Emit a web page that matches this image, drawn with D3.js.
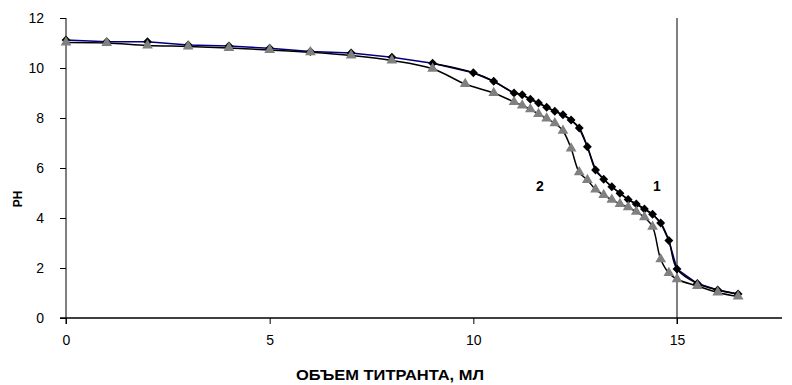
<!DOCTYPE html>
<html>
<head>
<meta charset="utf-8">
<script src="https://cdn.jsdelivr.net/npm/d3@7"></script>
<style>
  body { margin: 0; background: #fff; }
  text { font-family: "Liberation Sans", Arial, sans-serif; }
</style>
</head>
<body>
<div id="chart"></div>
<script>
// curve 1 (diamonds) and curve 2 (triangles): volume in mL, pH
const vol1 = [0, 1, 2, 3, 4, 5, 6, 7, 8, 9, 10, 10.5, 11, 11.2, 11.4, 11.6, 11.8, 12, 12.2, 12.4, 12.6, 12.8,
              13, 13.2, 13.4, 13.6, 13.8, 14, 14.2, 14.4, 14.6, 14.8, 15, 15.5, 16, 16.5];
const ph1  = [11.12, 11.05, 11.05, 10.92, 10.88, 10.79, 10.66, 10.6, 10.43, 10.19, 9.81, 9.47, 9.0, 8.93, 8.75, 8.6, 8.43, 8.27, 8.13, 7.92, 7.6, 6.85,
              5.92, 5.55, 5.25, 4.99, 4.74, 4.56, 4.36, 4.15, 3.8, 3.1, 1.96, 1.38, 1.12, 0.96];

const vol2 = [0, 1, 2, 3, 4, 5, 6, 7, 8, 9, 9.8, 10.5, 11, 11.2, 11.4, 11.6, 11.8, 12, 12.2, 12.4, 12.6, 12.8,
              13, 13.2, 13.4, 13.6, 13.8, 14, 14.2, 14.4, 14.6, 14.8, 15, 15.5, 16, 16.5];
const ph2  = [11.02, 11.0, 10.9, 10.86, 10.8, 10.72, 10.63, 10.5, 10.3, 9.97, 9.36, 9.0, 8.64, 8.5, 8.35, 8.16, 7.98, 7.79, 7.49, 6.78, 5.83, 5.52,
              5.14, 4.92, 4.73, 4.56, 4.43, 4.25, 4.03, 3.65, 2.35, 1.8, 1.55, 1.28, 1.02, 0.86];

const xTicks = [0, 5, 10, 15];
const yTicks = [0, 2, 4, 6, 8, 10, 12];
const markX = 15;

const width = 792, height = 385;
const x0 = 66, x15 = 677;
const x = d3.scaleLinear().domain([0, 15]).range([x0, x15]);
const y = d3.scaleLinear().domain([0, 12]).range([318, 18]);
const xEnd = 782;

const svg = d3.select("#chart").append("svg")
    .attr("width", width)
    .attr("height", height);

const s1 = vol1.map((v, i) => ({v: v, p: ph1[i]}));
const s2 = vol2.map((v, i) => ({v: v, p: ph2[i]}));

// axes
const yAxis = svg.append("g")
    .attr("transform", `translate(${x0},0)`)
    .call(d3.axisLeft(y).tickValues(yTicks).tickSize(6).tickPadding(16).tickSizeOuter(0));
yAxis.select(".domain").remove();
yAxis.selectAll("text").style("font-size", "14px").attr("fill", "#000");

svg.append("line")
    .attr("x1", x0).attr("x2", x0)
    .attr("y1", y(12)).attr("y2", y(0) + 6)
    .attr("stroke", "#000");

const xAxis = svg.append("g")
    .attr("transform", `translate(0,${y(0)})`)
    .call(d3.axisBottom(x).tickValues(xTicks).tickSize(6).tickPadding(11));
xAxis.select(".domain").remove();
xAxis.selectAll("text").style("font-size", "14px").attr("fill", "#000");

svg.append("line")
    .attr("x1", x0 - 6).attr("x2", xEnd)
    .attr("y1", y(0)).attr("y2", y(0))
    .attr("stroke", "#000")
    .attr("stroke-width", 1.3);

// vertical marker at 15 mL
svg.append("line")
    .attr("x1", x(markX)).attr("x2", x(markX))
    .attr("y1", y(12)).attr("y2", y(0) + 6)
    .attr("stroke", "#000");

// lines
const linear = d3.line().x(d => x(d.v)).y(d => y(d.p));
const smooth = d3.line().x(d => x(d.v)).y(d => y(d.p)).curve(d3.curveCatmullRom.alpha(0.5));

svg.append("path")
    .attr("d", linear(s1))
    .attr("fill", "none")
    .attr("stroke", "#000080")
    .attr("stroke-width", 1.5);

svg.append("path")
    .attr("d", smooth(s2))
    .attr("fill", "none")
    .attr("stroke", "#000")
    .attr("stroke-width", 1.5);

svg.append("path")
    .attr("d", smooth(s1.filter(d => d.v >= 9)))
    .attr("fill", "none")
    .attr("stroke", "#000")
    .attr("stroke-width", 1.5);

// markers
const diamond = d3.symbol().type(d3.symbolDiamond2).size(50);
const tri = d3.symbol().type(d3.symbolTriangle).size(50);

svg.selectAll(".d1")
    .data(s1)
    .enter()
    .append("path")
    .attr("class", "d1")
    .attr("d", diamond)
    .attr("transform", d => `translate(${x(d.v)},${y(d.p)})`)
    .attr("fill", "#000");

svg.selectAll(".t2")
    .data(s2)
    .enter()
    .append("path")
    .attr("class", "t2")
    .attr("d", tri)
    .attr("transform", d => `translate(${x(d.v)},${y(d.p)})`)
    .attr("fill", "#808080");

// curve labels
svg.append("text").attr("x", 657).attr("y", 191)
    .attr("text-anchor", "middle")
    .style("font-size", "14px").style("font-weight", "bold")
    .text("1");
svg.append("text").attr("x", 540).attr("y", 191)
    .attr("text-anchor", "middle")
    .style("font-size", "14px").style("font-weight", "bold")
    .text("2");

// axis titles
svg.append("text")
    .attr("transform", "translate(22,199) rotate(-90)")
    .attr("text-anchor", "middle")
    .style("font-size", "12px").style("font-weight", "bold")
    .text("PH");

svg.append("text")
    .attr("x", 390).attr("y", 380)
    .attr("text-anchor", "middle")
    .attr("textLength", 188)
    .attr("lengthAdjust", "spacingAndGlyphs")
    .style("font-size", "14px").style("font-weight", "bold")
    .text("ОБЪЕМ ТИТРАНТА, МЛ");
</script>
</body>
</html>
